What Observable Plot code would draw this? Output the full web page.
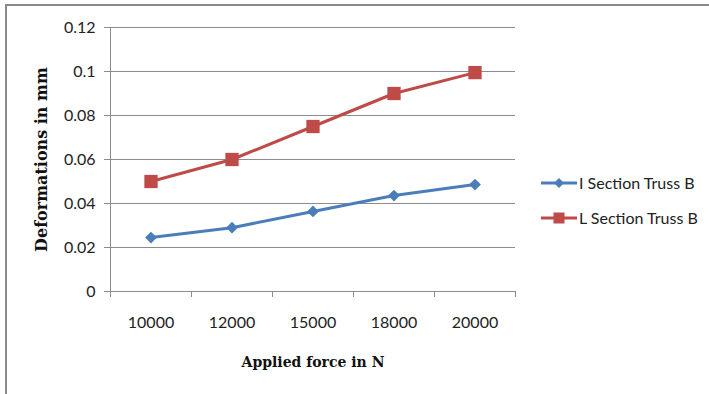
<!DOCTYPE html>
<html><head><meta charset="utf-8">
<script src="https://cdn.jsdelivr.net/npm/d3@7"></script>
<script src="https://cdn.jsdelivr.net/npm/@observablehq/plot@0.6"></script>
<style>
body{margin:0;background:#fff;}
#wrap{position:relative;width:709px;height:394px;overflow:hidden;}
#chart{position:absolute;left:0;top:0;}
#frame{position:absolute;left:5px;top:4px;width:800px;height:500px;border-left:2px solid #8a8a8a;border-top:2px solid #8a8a8a;pointer-events:none;}
#legend{position:absolute;left:541px;top:165px;font-family:Lato;font-size:16px;color:#222;}
#legend .row{display:flex;align-items:center;height:35px;}
#legend svg{margin-right:2px;}
</style></head><body>
<div id="wrap"><div id="chart"></div><div id="legend"></div><div id="frame"></div></div>
<script>
const forces = ["10000", "12000", "15000", "18000", "20000"];
const iSection = [0.0245, 0.029, 0.0364, 0.0436, 0.0486];
const lSection = [0.05, 0.06, 0.075, 0.09, 0.0995];
const seriesNames = ["I Section Truss B", "L Section Truss B"];
const seriesColors = ["#4a7ebb", "#be4b48"];
const yTicks = [0, 0.02, 0.04, 0.06, 0.08, 0.1, 0.12];
const xTitle = "Applied force in N";
const yTitle = "Deformations in mm";

const rowsI = forces.map((f, i) => ({i, f, v: iSection[i], s: seriesNames[0]}));
const rowsL = forces.map((f, i) => ({i, f, v: lSection[i], s: seriesNames[1]}));
const data = rowsI.concat(rowsL);
const bounds = d3.range(forces.length + 1).map(k => k - 0.5);

const chart = Plot.plot({
  width: 709, height: 394,
  marginLeft: 110, marginRight: 194, marginTop: 27, marginBottom: 103,
  style: {fontFamily: "Lato", fontSize: "16px", color: "#222", background: "transparent"},
  x: {type: "linear", domain: [-0.5, forces.length - 0.5]},
  y: {domain: [0, 0.12]},
  color: {domain: seriesNames, range: seriesColors},
  marks: [
    Plot.gridY(yTicks, {stroke: "#8c8c8c", strokeOpacity: 1}),
    Plot.axisY(yTicks, {tickSize: 6, tickPadding: 9, tickFormat: d => String(d), stroke: "#8c8c8c", fill: "#222", label: null}),
    Plot.axisX(d3.range(forces.length), {tickSize: 0, tickPadding: 25, tickFormat: i => forces[i], fill: "#222", label: null}),
    Plot.axisX(bounds, {tickSize: 6, tickFormat: () => "", stroke: "#8c8c8c", label: null}),
    Plot.ruleX([-0.5], {stroke: "#8c8c8c"}),
    Plot.ruleY([0], {stroke: "#8c8c8c"}),
    Plot.line(data, {x: "i", y: "v", z: "s", stroke: "s", strokeWidth: 3}),
    Plot.dot(rowsI, {x: "i", y: "v", symbol: "diamond2", r: 5.3, fill: seriesColors[0], stroke: null}),
    Plot.dot(rowsL, {x: "i", y: "v", symbol: "square", r: 7.5, fill: seriesColors[1], stroke: null}),
    Plot.text([yTitle], {frameAnchor: "left", dx: -69, rotate: -90, text: d => d, textAnchor: "middle", fontFamily: "DejaVu Serif", fontWeight: "bold", fontSize: 16, fill: "#111", lineAnchor: "middle"}),
    Plot.text([xTitle], {frameAnchor: "bottom", dy: 71, text: d => d, textAnchor: "middle", fontFamily: "DejaVu Serif", fontWeight: "bold", fontSize: 14, fill: "#111", lineAnchor: "middle"})
  ]
});
document.getElementById("chart").appendChild(chart);

const legend = d3.select("#legend");
const shapes = ["diamond", "square"];
seriesNames.forEach((name, k) => {
  const row = legend.append("div").attr("class", "row");
  const svg = row.append("svg").attr("width", 36).attr("height", 14);
  svg.append("line").attr("x1", 0).attr("x2", 36).attr("y1", 7).attr("y2", 7)
    .attr("stroke", seriesColors[k]).attr("stroke-width", 3);
  if (shapes[k] === "diamond") {
    svg.append("path").attr("d", "M18,2L23,7L18,12L13,7Z").attr("fill", seriesColors[k]);
  } else {
    svg.append("rect").attr("x", 12.5).attr("y", 1.5).attr("width", 11).attr("height", 11).attr("fill", seriesColors[k]);
  }
  row.append("span").text(name);
});
</script>
</body></html>
